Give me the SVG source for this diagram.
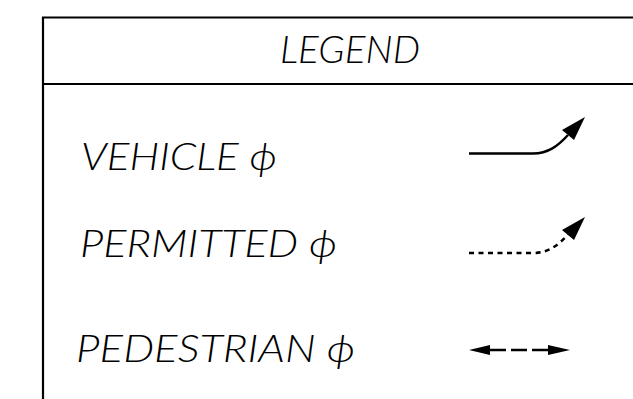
<svg xmlns="http://www.w3.org/2000/svg" width="633" height="399" viewBox="0 0 633 399">
  <style>
    .frame { fill: none; stroke: #000; stroke-width: 2.2; }
    .lbl { font-family: "Lato", "Open Sans", "DejaVu Sans", sans-serif; font-weight: 300; font-style: italic; font-size: 38px; fill: #000; }
    .ln { fill: none; stroke: #000; stroke-width: 2.5; }
    .head { fill: #000; stroke: none; }
  </style>
  <rect x="0" y="0" width="633" height="399" fill="#fff"/>
  <g id="frame">
    <path class="frame" d="M43,399 V17.5 H633 M43,84 H633"/>
  </g>
  <g id="title">
    <text class="lbl" x="280" y="63" textLength="140" lengthAdjust="spacingAndGlyphs">LEGEND</text>
  </g>
  <g id="vehicle">
    <text class="lbl" x="81" y="170" textLength="196" lengthAdjust="spacingAndGlyphs">VEHICLE ϕ</text>
  </g>
  <g id="permitted">
    <text class="lbl" x="80" y="257" textLength="257" lengthAdjust="spacingAndGlyphs">PERMITTED ϕ</text>
  </g>
  <g id="pedestrian">
    <text class="lbl" x="76" y="362" textLength="279" lengthAdjust="spacingAndGlyphs">PEDESTRIAN ϕ</text>
  </g>
  <g id="connectors">
    <path class="ln" d="M469,153.5 H533 C548,153.5 558,146 568,135"/>
    <polygon class="head" points="585,117 562,130 574,140"/>
    <path class="ln" d="M469,253 H533 C548,253 558,245.5 568,234.5" stroke-dasharray="5 4.5"/>
    <polygon class="head" points="585,217 562,230 574,240"/>
    <path class="ln" d="M490,350 H548" stroke-dasharray="16 5"/>
    <polygon class="head" points="469,350 490,345 490,355"/>
    <polygon class="head" points="570,350 548,345 548,355"/>
  </g>
</svg>
